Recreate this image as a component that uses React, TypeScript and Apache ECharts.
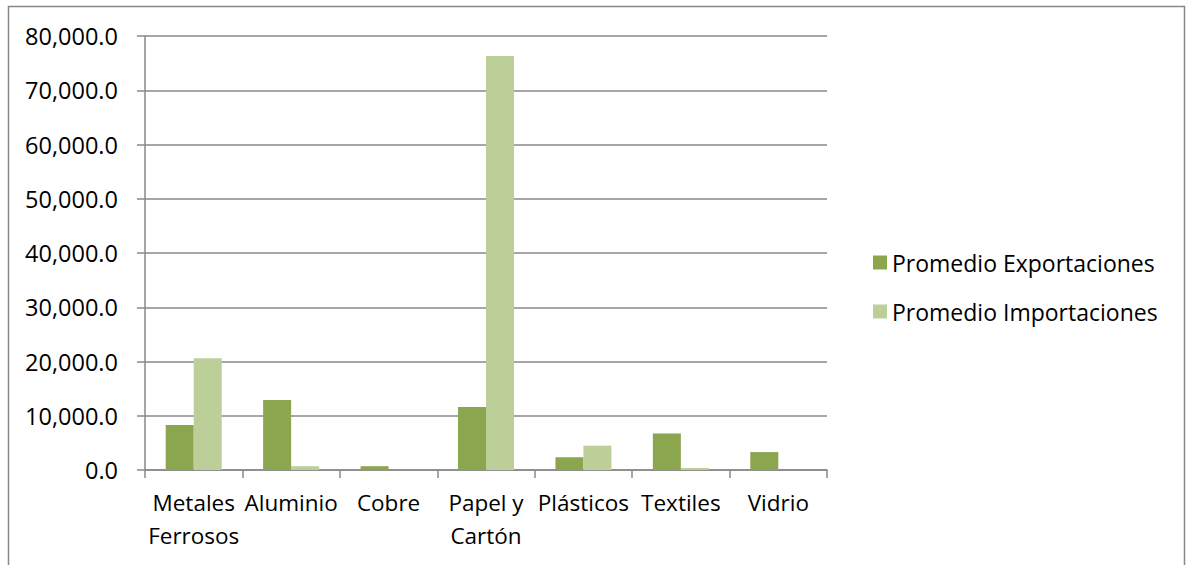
import React, { useEffect, useRef } from "react";
import * as echarts from "echarts";

const categories = ["Metales Ferrosos", "Aluminio", "Cobre", "Papel y Cartón", "Plásticos", "Textiles", "Vidrio"];
const exportaciones = [8300, 12900, 700, 11600, 2350, 6750, 3300];
const importaciones = [20600, 700, 0, 76300, 4480, 380, 0];
const seriesNames = ["Promedio Exportaciones", "Promedio Importaciones"];

const FONT = "Open Sans";

export default function App() {
  const ref = useRef<HTMLDivElement>(null);
  useEffect(() => {
    const chart = echarts.init(ref.current!, null, { renderer: "svg" });
    chart.setOption({
      animation: false,
      backgroundColor: "#ffffff",
      textStyle: { fontFamily: FONT },
      grid: { left: 145, right: 359, top: 36, bottom: 95, containLabel: false },
      legend: {
        orient: "vertical",
        left: 868,
        top: 246,
        itemWidth: 14,
        itemHeight: 14,
        itemGap: 26,
        icon: "rect",
        textStyle: { fontFamily: FONT, fontSize: 23, color: "#000" },
        data: seriesNames,
      },
      xAxis: {
        type: "category",
        data: categories,
        axisLine: { lineStyle: { color: "#888", width: 1.5 } },
        axisTick: { show: true, length: 8, lineStyle: { color: "#888", width: 1.5 } },
        axisLabel: {
          color: "#000",
          fontFamily: FONT,
          fontSize: 22.5,
          lineHeight: 33,
          margin: 16,
          interval: 0,
          width: 110,
          overflow: "break",
          formatter: (v: string) => v.replace("Metales ", "Metales\n").replace("y ", "y\n"),
        },
      },
      yAxis: {
        type: "value",
        min: 0,
        max: 80000,
        interval: 10000,
        axisLine: { show: true, lineStyle: { color: "#888", width: 1.5 } },
        axisTick: { show: true, length: 8, lineStyle: { color: "#888", width: 1.5 } },
        splitLine: { lineStyle: { color: "#888", width: 1.5 } },
        axisLabel: {
          color: "#000",
          fontFamily: FONT,
          fontSize: 23.5,
          margin: 27,
          formatter: (v: number) =>
            v.toLocaleString("en-US", { minimumFractionDigits: 1, maximumFractionDigits: 1 }),
        },
      },
      series: [
        {
          name: seriesNames[0],
          type: "bar",
          data: exportaciones,
          barGap: "0%",
          barCategoryGap: "42.5%",
          itemStyle: { color: "#8ba64f" },
        },
        {
          name: seriesNames[1],
          type: "bar",
          data: importaciones,
          barGap: "0%",
          barCategoryGap: "42.5%",
          itemStyle: { color: "#bccf98" },
        },
      ],
      graphic: [
        {
          type: "rect",
          shape: { x: 8.5, y: 6.5, width: 1176, height: 620 },
          style: { fill: "none", stroke: "#888", lineWidth: 1.5 },
          silent: true,
        },
      ],
    });
    return () => chart.dispose();
  }, []);
  return (
    <div
      ref={ref}
      style={{ position: "fixed", left: 0, top: 0, width: 1186, height: 565 }}
    />
  );
}
